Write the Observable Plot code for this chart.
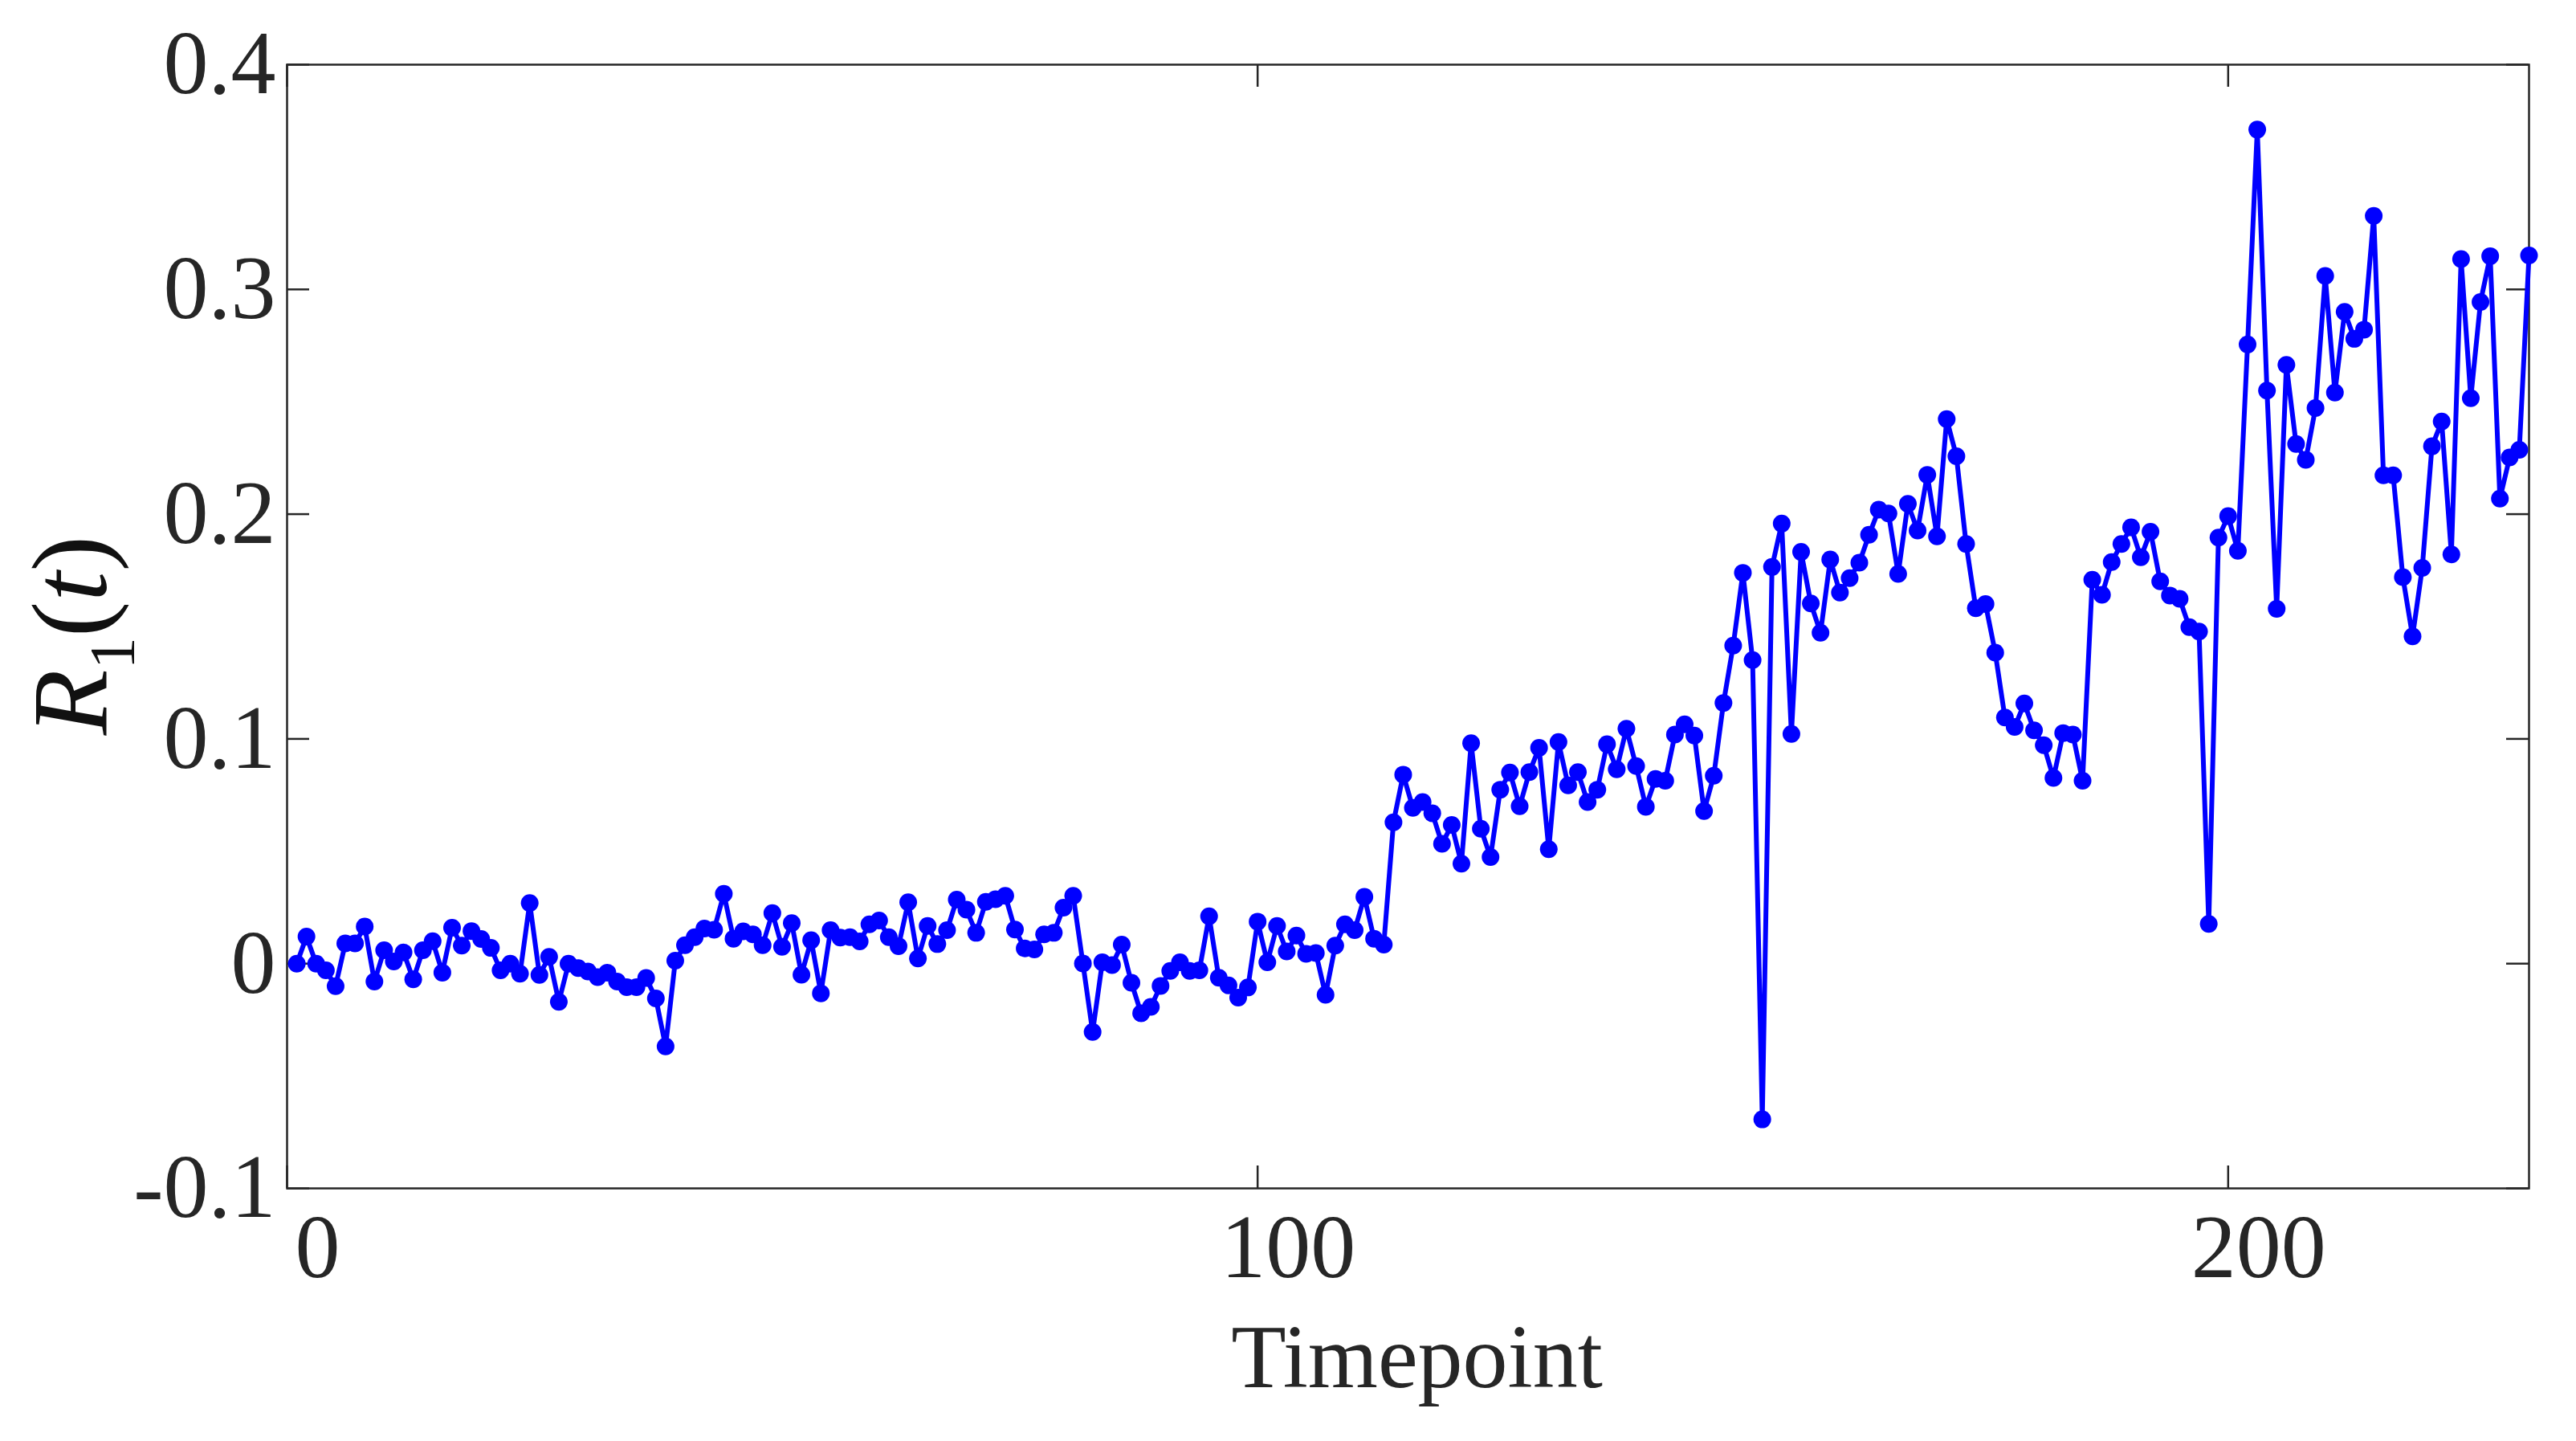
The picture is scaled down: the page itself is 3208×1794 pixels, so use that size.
<!DOCTYPE html>
<html>
<head>
<meta charset="utf-8">
<style>
  html, body { margin: 0; padding: 0; background: #ffffff; }
  #chart svg { display: block; }
</style>
<script src="https://cdn.jsdelivr.net/npm/d3@7"></script>
<script src="https://cdn.jsdelivr.net/npm/@observablehq/plot@0.6"></script>
</head>
<body>
<div id="chart"></div>
<script>
// R1(t) values, one per timepoint (timepoints 1..231)
const rValues = [
  0.000, 0.012, 0.000, -0.003, -0.010, 0.009, 0.009, 0.0165, -0.008, 0.006,
  0.001, 0.005, -0.007, 0.006, 0.010, -0.004, 0.016, 0.008, 0.0145, 0.011,
  0.007, -0.003, 0.000, -0.0045, 0.027, -0.005, 0.003, -0.017, 0.000, -0.002,
  -0.0035, -0.006, -0.004, -0.008, -0.0105, -0.0105, -0.0064, -0.0155, -0.0368, 0.0013,
  0.0082, 0.0118, 0.0156, 0.0151, 0.0311, 0.0111, 0.0144, 0.0130, 0.0082, 0.0225,
  0.0075, 0.0180, -0.0049, 0.0104, -0.0132, 0.0149, 0.0116, 0.0118, 0.0099, 0.0175,
  0.0192, 0.0118, 0.0078, 0.0273, 0.0023, 0.0168, 0.0087, 0.0149, 0.0285, 0.0240,
  0.0137, 0.0275, 0.0287, 0.0302, 0.0152, 0.0068, 0.0063, 0.0130, 0.0137, 0.0249,
  0.0302, 0.0001, -0.0304, 0.0006, -0.0006, 0.0085, -0.0085, -0.0221, -0.0192, -0.0099,
  -0.0032, 0.0006, -0.0032, -0.0030, 0.0211, -0.0063, -0.0097, -0.0151, -0.0106, 0.0187,
  0.0006, 0.0168, 0.0054, 0.0125, 0.0044, 0.0047, -0.0139, 0.0080, 0.0175, 0.0149,
  0.0297, 0.0111, 0.0085, 0.0629, 0.0841, 0.0693, 0.0719, 0.0669, 0.0533, 0.0617,
  0.0445, 0.0981, 0.0600, 0.0474, 0.0774, 0.0850, 0.0700, 0.0852, 0.0960, 0.0509,
  0.0986, 0.0793, 0.0852, 0.0719, 0.0774, 0.0976, 0.0865, 0.1045, 0.0879, 0.0698,
  0.0822, 0.0814, 0.1019, 0.1065, 0.1015, 0.0679, 0.0836, 0.1160, 0.1415, 0.1739,
  0.1351, -0.0693, 0.1765, 0.1958, 0.1022, 0.1832, 0.1603, 0.1472, 0.1798, 0.1651,
  0.1715, 0.1784, 0.1908, 0.2020, 0.2003, 0.1734, 0.2046, 0.1927, 0.2175, 0.1901,
  0.2423, 0.2258, 0.1867, 0.1581, 0.1600, 0.1384, 0.1095, 0.1053, 0.1158, 0.1038,
  0.0972, 0.0826, 0.1026, 0.1019, 0.0814, 0.1708, 0.1641, 0.1787, 0.1867, 0.1941,
  0.1808, 0.1922, 0.1701, 0.1638, 0.1623, 0.1497, 0.1478, 0.0177, 0.1896, 0.1991,
  0.1837, 0.2755, 0.3711, 0.2550, 0.1579, 0.2664, 0.2312, 0.2242, 0.2472, 0.3060,
  0.2541, 0.2900, 0.2780, 0.2821, 0.3327, 0.2173, 0.2173, 0.1720, 0.1456, 0.1761,
  0.2302, 0.2412, 0.1821, 0.3135, 0.2516, 0.2944, 0.3148, 0.2069, 0.2252, 0.2286,
  0.3151
];
const timepoints = rValues.map((_, i) => i + 1);

const xTicks = [0, 100, 200];
const yTicks = [-0.1, 0, 0.1, 0.2, 0.3, 0.4];
const xDomain = [0, 231];
const yDomain = [-0.1, 0.4];
const xLabel = "Timepoint";

// layout
const W = 3208, H = 1794;
const mL = 357, mR = 59, mT = 80, mB = 315;
const pw = W - mL - mR, ph = H - mT - mB;
const tickLen = 28;
const ink = "#262626";
const fontFam = "'Liberation Serif', 'Times New Roman', serif";

const data = timepoints.map((t, i) => ({t, r: rValues[i]}));

const chart = Plot.plot({
  width: W, height: H,
  marginLeft: mL, marginRight: mR, marginTop: mT, marginBottom: mB,
  style: {fontFamily: fontFam, fontSize: "112px", color: ink, background: "#ffffff"},
  x: {domain: xDomain, ticks: xTicks},
  y: {domain: yDomain, ticks: yTicks},
  marks: [
    Plot.frame({stroke: ink, strokeWidth: 2.5}),
    Plot.tickY(yTicks, {y: d => d, stroke: ink, strokeWidth: 2.5, insetRight: pw - tickLen}),
    Plot.tickY(yTicks, {y: d => d, stroke: ink, strokeWidth: 2.5, insetLeft: pw - tickLen}),
    Plot.tickX(xTicks, {x: d => d, stroke: ink, strokeWidth: 2.5, insetTop: ph - tickLen}),
    Plot.tickX(xTicks, {x: d => d, stroke: ink, strokeWidth: 2.5, insetBottom: ph - tickLen}),
    Plot.axisX({ticks: xTicks, tickSize: 0, tickPadding: 31, dx: 38, tickFormat: d => String(d), label: null, fill: ink}),
    Plot.axisY({ticks: yTicks, tickSize: 0, tickPadding: 14, tickFormat: d => (d === 0 ? "0" : d.toFixed(1)), label: null, fill: ink}),
    Plot.line(data, {x: "t", y: "r", stroke: "#0000FF", strokeWidth: 6, strokeLinejoin: "round"}),
    Plot.dot(data, {x: "t", y: "r", r: 11, fill: "#0000FF", stroke: "none"}),
    Plot.text([xLabel], {frameAnchor: "bottom", lineAnchor: "bottom", dy: 247, dx: 11, fontSize: 112, fill: ink})
  ]
});

// y-axis label R_1(t) with italic R and t, subscript 1
const svg = d3.select(chart);
const yl = svg.append("text")
  .attr("transform", "translate(132,791) rotate(-90)")
  .attr("text-anchor", "middle")
  .attr("font-family", fontFam)
  .attr("font-size", 134)
  .attr("fill", "#111111");
yl.append("tspan").attr("font-style", "italic").text("R");
yl.append("tspan").attr("font-size", 80).attr("dy", 35).text("1");
yl.append("tspan").attr("dy", -35).text("(");
yl.append("tspan").attr("font-style", "italic").text("t");
yl.append("tspan").text(")");

document.getElementById("chart").appendChild(chart);
</script>
</body>
</html>
